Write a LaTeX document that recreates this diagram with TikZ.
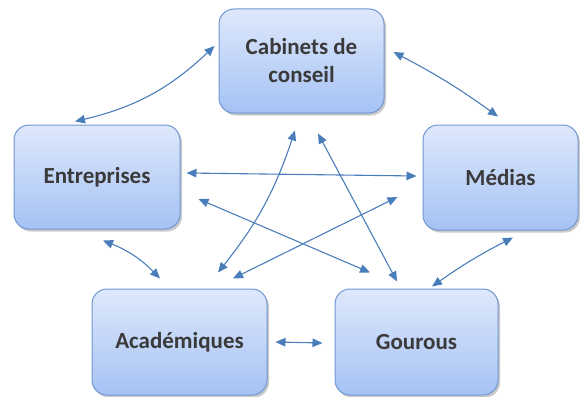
\documentclass[tikz,border=0pt]{standalone}
\usepackage{fontspec}
\setmainfont{Carlito}
\usetikzlibrary{arrows.meta,shadows,calc}
\definecolor{boxtop}{HTML}{DEE8FB}
\definecolor{boxbot}{HTML}{A5C2F4}
\definecolor{boxline}{HTML}{7097D1}
\definecolor{arr}{HTML}{4A7EBB}
\definecolor{txt}{HTML}{3A3A3A}
\begin{document}
\begin{tikzpicture}[x=1pt,y=-1pt,
  actor/.style={draw=boxline, line width=1pt, rounded corners=15pt,
    top color=boxtop, bottom color=boxbot,
    drop shadow={shadow xshift=2pt, shadow yshift=-2.5pt, opacity=0.35, fill=black!60},
    font=\fontsize{23}{28}\selectfont\bfseries, text=txt, align=center,
    inner sep=0pt},
  link/.style={arr, line width=1.1pt, {Triangle[length=10pt,width=8.5pt]}-{Triangle[length=10pt,width=8.5pt]}}]
\useasboundingbox (0,0) rectangle (580,396);
\node[actor, minimum width=165pt, minimum height=104pt] (cab) at (301.5,61) {Cabinets de\\conseil};
\node[actor, minimum width=166pt, minimum height=104pt] (ent) at (97,177) {Entreprises};
\node[actor, minimum width=155pt, minimum height=105pt] (med) at (500.5,177.5) {Médias};
\node[actor, minimum width=175pt, minimum height=106pt] (aca) at (179.5,342) {Académiques};
\node[actor, minimum width=163pt, minimum height=106pt] (gou) at (416.5,342) {Gourous};

\draw[link] ($(ent.north)+(-22,-3)$) to[bend right=15] ($(cab.west)+(-4,-15)$);
\draw[link] ($(cab.east)+(9,-9)$) to[bend left=4] ($(med.north)+(-2.5,-8)$);
\draw[link] ($(ent.east)+(6,-4)$) -- ($(med.west)+(-6,-1.5)$);
\draw[link] ($(ent.east)+(18,22)$) -- ($(gou.north)+(-46.5,-16)$);
\draw[link] ($(med.south)+(12.5,7)$) to[bend right=4] ($(gou.north)+(15.5,-2)$);
\draw[link] ($(ent.south)+(6,11)$) to[bend left=12] ($(aca.north)+(-19.5,-10)$);
\draw[link] ($(aca.north)+(53.5,-10)$) -- ($(med.west)+(-25,19.5)$);
\draw[link] ($(aca.north)+(38.5,-16)$) to[bend right=10] ($(cab.south)+(-6.5,17)$);
\draw[link] ($(gou.north)+(-19.5,-7)$) -- ($(cab.south)+(16.5,20)$);
\draw[link] ($(aca.east)+(8,0)$) -- ($(gou.west)+(-12,1)$);
\end{tikzpicture}
\end{document}
